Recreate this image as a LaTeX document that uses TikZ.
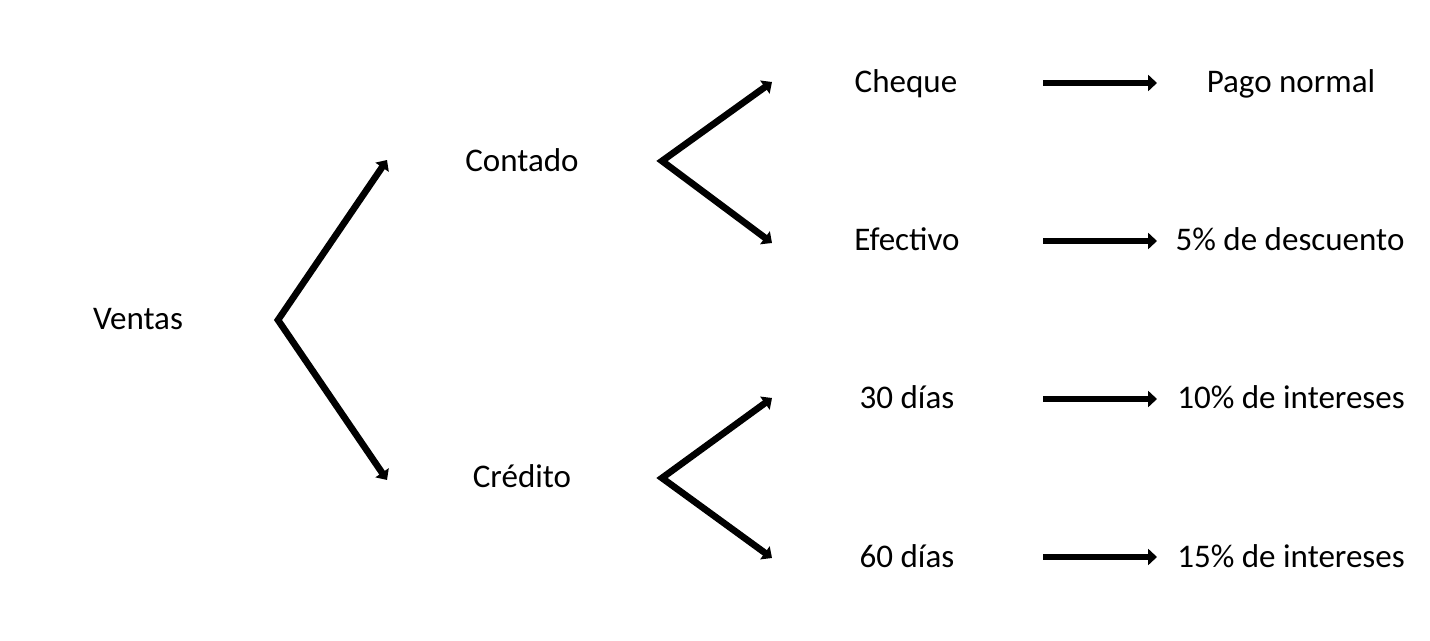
\documentclass[tikz,border=0pt]{standalone}
\usepackage{fontspec}
\setmainfont{Carlito}
\usetikzlibrary{arrows.meta}
\begin{document}
\begin{tikzpicture}[x=0.02cm,y=-0.02cm,font=\fontsize{18.8}{22}\selectfont,
  flecha/.style={line width=3.8pt,line join=miter,-{Triangle[length=5pt,width=9pt]}},
  horquilla/.style={line width=3.8pt,line join=miter,{Triangle[length=5pt,width=9pt]}-{Triangle[length=5pt,width=9pt]}},
  texto/.style={anchor=base,inner sep=0pt}]
\useasboundingbox (0,0) rectangle (1430,641);

% primer nivel
\node[texto] (ventas) at (138,330) {Ventas};
\node[texto] (contado) at (522,172) {Contado};
\node[texto] (credito) at (522,488) {Crédito};

% segundo nivel
\node[texto] (cheque) at (906,93) {Cheque};
\node[texto] (efectivo) at (907,251) {Efectivo};
\node[texto] (dias30) at (907,409) {30 días};
\node[texto] (dias60) at (907,567) {60 días};

% resultados
\node[texto] (pago) at (1291,93) {Pago normal};
\node[texto] (descuento) at (1290,251) {5\% de descuento};
\node[texto] (int10) at (1291,409) {10\% de intereses};
\node[texto] (int15) at (1291,567) {15\% de intereses};

% horquillas
\coordinate (v) at (278,320);
\coordinate (vc) at (387,160);
\coordinate (vr) at (387,480);
\draw[horquilla] (vc) -- (v) -- (vr);

\coordinate (c) at (662,161);
\coordinate (cq) at (772,82);
\coordinate (ef) at (772,243);
\draw[horquilla] (cq) -- (c) -- (ef);

\coordinate (r) at (662,478);
\coordinate (d30) at (772,398);
\coordinate (d60) at (772,558);
\draw[horquilla] (d30) -- (r) -- (d60);

% flechas horizontales
\coordinate (a1) at (1043,83);
\coordinate (b1) at (1157,83);
\coordinate (a2) at (1043,241);
\coordinate (b2) at (1157,241);
\coordinate (a3) at (1043,399);
\coordinate (b3) at (1157,399);
\coordinate (a4) at (1043,557);
\coordinate (b4) at (1157,557);
\draw[flecha] (a1) -- (b1);
\draw[flecha] (a2) -- (b2);
\draw[flecha] (a3) -- (b3);
\draw[flecha] (a4) -- (b4);

\end{tikzpicture}
\end{document}
